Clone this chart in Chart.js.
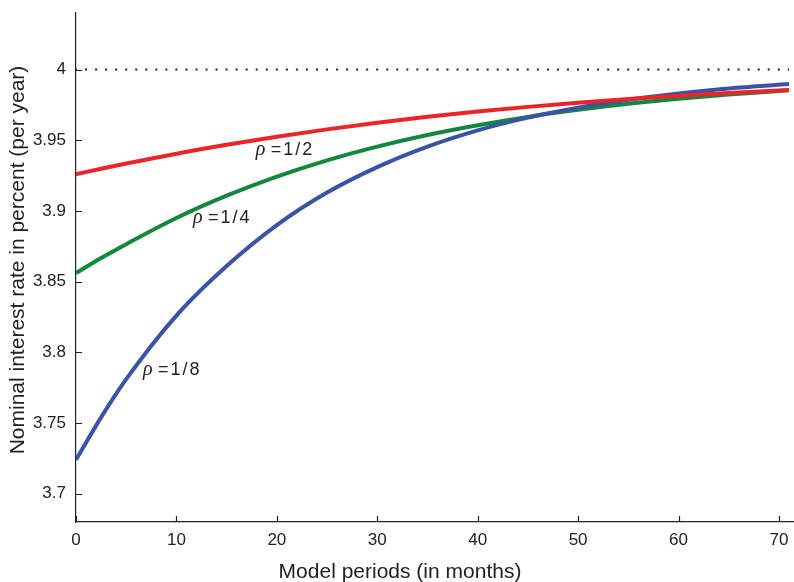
<!DOCTYPE html>
<html>
<head>
<meta charset="utf-8">
<script src="https://cdn.jsdelivr.net/npm/chart.js@4.4.1/dist/chart.umd.min.js"></script>
<style>
  html, body { margin: 0; padding: 0; background: #fff; }
  #wrap { width: 794px; height: 582px; }
</style>
</head>
<body>
<div id="wrap"><canvas id="c"></canvas></div>
<script>
// Model periods (months) at which values were read
const periods = [0, 2.5, 5, 10, 15, 20, 25, 30, 35, 40, 45, 50, 55, 60, 65, 71];
// Nominal interest rate (percent per year)
const rhoHalf    = [3.926, 3.9298, 3.9335, 3.9405, 3.9468, 3.9525, 3.9577, 3.9624, 3.9666, 3.9703, 3.9736, 3.9766, 3.9792, 3.9815, 3.9835, 3.9856];
const rhoQuarter = [3.856, 3.8667, 3.8765, 3.8950, 3.9108, 3.9243, 3.9358, 3.9455, 3.9537, 3.9606, 3.9665, 3.9715, 3.9758, 3.9794, 3.9824, 3.9853];
const rhoEighth  = [3.724, 3.7540, 3.781, 3.826, 3.861, 3.890, 3.913, 3.931, 3.9455, 3.957, 3.966, 3.973, 3.9786, 3.983, 3.9866, 3.9897];
// Steady-state reference level
const steadyPeriods = [0, 71];
const steadyRate = [4, 4];
// Tick labels
const xTicks = [0, 10, 20, 30, 40, 50, 60, 70];
const yTicks = [3.7, 3.75, 3.8, 3.85, 3.9, 3.95, 4];
// Axis titles
const xTitle = 'Model periods (in months)';
const yTitle = 'Nominal interest rate in percent (per year)';
// Curve labels: [text suffix, period, rate]
const curveLabels = [
  ['=1/2', 17.9, 3.9397],
  ['=1/4', 11.65, 3.8914],
  ['=1/8', 6.67, 3.7841]
];

const toXY = (xs, ys) => xs.map((x, i) => ({x: x, y: ys[i]}));

const sansFont = '"Liberation Sans", Arial, Helvetica, sans-serif';

const decorations = {
  id: 'decorations',
  afterDraw(chart) {
    const ctx = chart.ctx;
    const xs = chart.scales.x, ys = chart.scales.y;
    const area = chart.chartArea;
    ctx.save();
    // inward tick marks
    ctx.strokeStyle = '#222';
    ctx.lineWidth = 1.2;
    ctx.beginPath();
    xTicks.forEach(v => {
      const px = Math.round(xs.getPixelForValue(v)) + 0.5;
      ctx.moveTo(px, area.bottom);
      ctx.lineTo(px, area.bottom - 6);
    });
    yTicks.forEach(v => {
      const py = Math.round(ys.getPixelForValue(v)) + 0.5;
      ctx.moveTo(area.left, py);
      ctx.lineTo(area.left + 6, py);
    });
    ctx.stroke();

    // curve labels
    ctx.fillStyle = '#222';
    ctx.textBaseline = 'alphabetic';
    ctx.textAlign = 'left';
    curveLabels.forEach(([txt, t, v]) => {
      const px = xs.getPixelForValue(t);
      const py = ys.getPixelForValue(v);
      ctx.font = 'italic 20px "Liberation Serif", "DejaVu Serif", serif';
      ctx.fillText('\u03C1', px, py);
      ctx.font = '18px ' + sansFont;
      try { ctx.letterSpacing = '2px'; } catch (e) {}
      ctx.fillText(txt, px + 15, py);
      try { ctx.letterSpacing = '0px'; } catch (e) {}
    });

    // axis titles
    ctx.font = '21px ' + sansFont;
    ctx.textAlign = 'center';
    ctx.textBaseline = 'middle';
    ctx.fillText(xTitle, 400, 572);
    ctx.translate(18.5, 260);
    ctx.rotate(-Math.PI / 2);
    ctx.fillText(yTitle, 0, 0);
    ctx.restore();
  }
};

new Chart(document.getElementById('c'), {
  type: 'line',
  data: {
    datasets: [
      { label: 'rho=1/2', data: toXY(periods, rhoHalf), borderColor: '#EC2429', borderWidth: 4,
        pointRadius: 0, cubicInterpolationMode: 'monotone', fill: false },
      { label: 'rho=1/8', data: toXY(periods, rhoEighth), borderColor: '#3A53A6', borderWidth: 4,
        pointRadius: 0, cubicInterpolationMode: 'monotone', fill: false },
      { label: 'rho=1/4', data: toXY(periods, rhoQuarter), borderColor: '#13873D', borderWidth: 4,
        pointRadius: 0, cubicInterpolationMode: 'monotone', fill: false },
      { label: 'steady', data: toXY(steadyPeriods, steadyRate), borderColor: '#222', borderWidth: 2,
        borderDash: [2, 8.04], borderDashOffset: 1, borderCapStyle: 'butt',
        pointRadius: 0, fill: false, tension: 0 }
    ]
  },
  options: {
    responsive: true,
    maintainAspectRatio: false,
    animation: false,
    events: [],
    layout: { padding: { top: 13, right: 0, left: 0, bottom: 0 } },
    plugins: { legend: { display: false }, tooltip: { enabled: false } },
    scales: {
      x: {
        type: 'linear',
        min: 0, max: 71.5,
        afterBuildTicks: s => { s.ticks = xTicks.map(v => ({value: v})); },
        afterFit: s => { s.height = 60; s.paddingLeft = 0; s.paddingRight = 0; },
        grid: { display: false, drawTicks: false },
        border: { display: true, color: '#222', width: 1.2 },
        ticks: { padding: 8, color: '#222', font: { family: sansFont, size: 17 },
                 callback: v => String(v), maxRotation: 0 },
        title: { display: false }
      },
      y: {
        type: 'linear',
        min: 3.68, max: 4.04,
        afterBuildTicks: s => { s.ticks = yTicks.map(v => ({value: v})); },
        afterFit: s => { s.width = 76; s.paddingTop = 0; s.paddingBottom = 0; },
        grid: { display: false, drawTicks: false },
        border: { display: true, color: '#222', width: 1.2 },
        ticks: { padding: 10, color: '#222', font: { family: sansFont, size: 17 },
                 callback: v => String(Math.round(v * 100) / 100) },
        title: { display: false }
      }
    }
  },
  plugins: [decorations]
});
</script>
</body>
</html>
